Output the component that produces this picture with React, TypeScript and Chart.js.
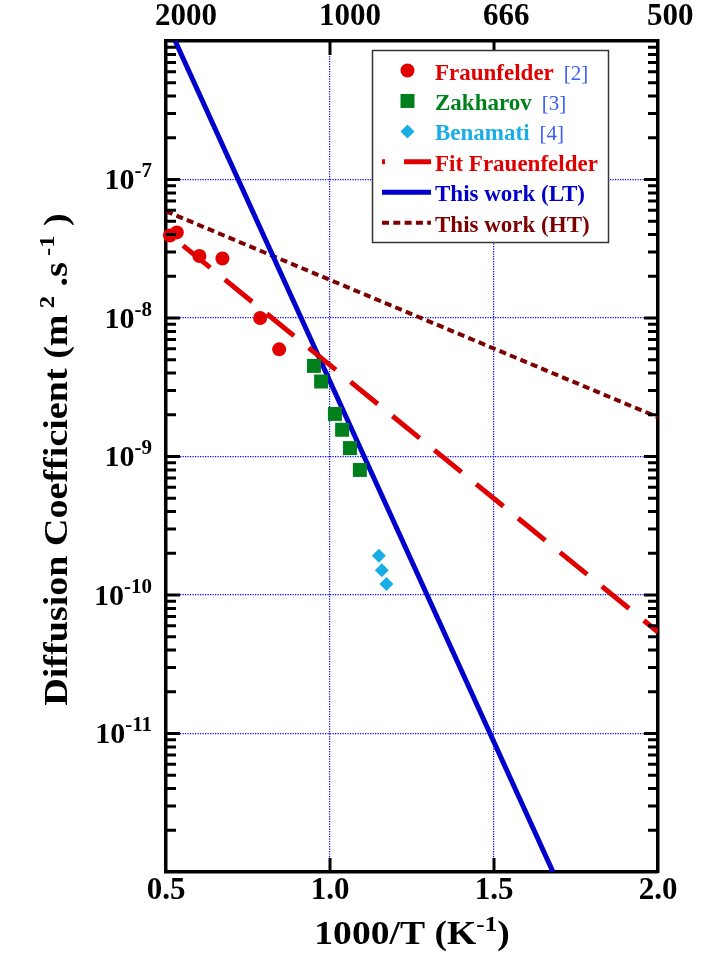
import React, { useEffect, useRef } from 'react';
import { Chart, registerables } from 'chart.js';

Chart.register(...registerables);

// ---------------- data ----------------
const fraunfelderX = [0.512, 0.533, 0.602, 0.672, 0.787, 0.845];
const fraunfelderY = [3.94e-8, 4.15e-8, 2.8e-8, 2.69e-8, 1.0e-8, 5.94e-9];
const zakharovX = [0.951, 0.973, 1.015, 1.037, 1.061, 1.091];
const zakharovY = [4.51e-9, 3.48e-9, 2.03e-9, 1.56e-9, 1.15e-9, 8.0e-10];
const benamatiX = [1.149, 1.158, 1.172];
const benamatiY = [1.92e-10, 1.51e-10, 1.2e-10];
const fitFrauenfelderX = [0.5, 2.0];
const fitFrauenfelderY = [4.2e-8, 5.4e-11];
const thisWorkLTX = [0.528, 1.68];
const thisWorkLTY = [1e-6, 1e-12];
const thisWorkHTX = [0.5, 2.0];
const thisWorkHTY = [5.9e-8, 1.92e-9];

const seriesLabels = ['Fraunfelder', 'Zakharov', 'Benamati', 'Fit Frauenfelder', 'This work (LT)', 'This work (HT)'];
const seriesRefs = ['[2]', '[3]', '[4]', '', '', ''];
const xTickValues = [0.5, 1.0, 1.5, 2.0];
const xTickLabels = ['0.5', '1.0', '1.5', '2.0'];
const topTickLabels = ['2000', '1000', '666', '500'];
const yTickExponents = [-11, -10, -9, -8, -7];
const yMin = 1e-12;
const yMax = 1e-6;
const xMin = 0.5;
const xMax = 2.0;

// ---------------- styles ----------------
const FONT = '"Liberation Serif", "Times New Roman", serif';
const COLORS = {
  fra: '#e00000',
  zak: '#00801c',
  ben: '#19ade6',
  fit: '#e00000',
  lt: '#0000cc',
  ht: '#7d0000',
  ref: '#3a5cff',
  grid: '#0000ff',
};

type Seg = { t: string; sup?: boolean };

function drawRich(
  ctx: CanvasRenderingContext2D,
  segs: Seg[],
  x: number,
  y: number,
  size: number,
  supSize: number,
  rise: number,
  align: 'left' | 'center' | 'right',
  color: string,
  sx = 1,
  weight = 'bold'
) {
  const fMain = `${weight} ${size}px ${FONT}`;
  const fSup = `${weight} ${supSize}px ${FONT}`;
  const widths = segs.map((s) => {
    ctx.font = s.sup ? fSup : fMain;
    return ctx.measureText(s.t).width;
  });
  const total = widths.reduce((a, b) => a + b, 0);
  ctx.save();
  ctx.translate(x, y);
  ctx.scale(sx, 1);
  let cx = align === 'center' ? -total / 2 : align === 'right' ? -total : 0;
  ctx.textAlign = 'left';
  ctx.textBaseline = 'alphabetic';
  ctx.fillStyle = color;
  segs.forEach((s, i) => {
    ctx.font = s.sup ? fSup : fMain;
    ctx.fillText(s.t, cx, s.sup ? -rise : 0);
    cx += widths[i];
  });
  ctx.restore();
}

const pts = (xs: number[], ys: number[]) => xs.map((x, i) => ({ x, y: ys[i] }));
const isDecade = (v: number) => Math.abs(Math.log10(v) - Math.round(Math.log10(v))) < 1e-6;

const frameTicks = {
  id: 'frameTicks',
  afterDatasetsDraw(chart: any) {
    const { ctx, chartArea: a, scales } = chart;
    const ys = scales.y;
    const xs = scales.x;
    ctx.save();
    ctx.strokeStyle = '#000';
    ctx.lineWidth = 3;
    ctx.lineCap = 'butt';
    ctx.beginPath();
    for (let e = -12; e < -6; e++) {
      for (let k = 1; k <= 9; k++) {
        const v = k * Math.pow(10, e);
        if (k === 1 && e === -12) continue;
        const py = ys.getPixelForValue(v);
        const len = k === 1 ? 14 : 10;
        ctx.moveTo(a.left, py);
        ctx.lineTo(a.left + len, py);
        ctx.moveTo(a.right, py);
        ctx.lineTo(a.right - len, py);
      }
    }
    xTickValues.forEach((v) => {
      if (v <= xMin || v >= xMax) return;
      const px = xs.getPixelForValue(v);
      ctx.moveTo(px, a.bottom);
      ctx.lineTo(px, a.bottom - 14);
      ctx.moveTo(px, a.top);
      ctx.lineTo(px, a.top + 14);
    });
    ctx.stroke();
    ctx.restore();
  },
};

const annotations = {
  id: 'annotations',
  afterDraw(chart: any) {
    const { ctx, chartArea: a, scales } = chart;
    // y tick labels 10^n
    yTickExponents.forEach((e) => {
      const py = scales.y.getPixelForValue(Math.pow(10, e));
      drawRich(ctx, [{ t: '10' }, { t: String(e), sup: true }], a.left - 14, py + 9.5, 30, 21, 12, 'right', '#000');
    });
    // x title
    drawRich(
      ctx,
      [{ t: '1000/T (K' }, { t: '-1', sup: true }, { t: ')' }],
      (a.left + a.right) / 2,
      944,
      33,
      22,
      13,
      'center',
      '#000',
      1.14
    );
    // y title
    ctx.save();
    ctx.translate(67, (a.top + a.bottom) / 2 + 3);
    ctx.rotate(-Math.PI / 2);
    drawRich(
      ctx,
      [{ t: 'Diffusion Coefficient (m' }, { t: ' 2', sup: true }, { t: ' .s' }, { t: ' -1', sup: true }, { t: ' )' }],
      0,
      0,
      34,
      22,
      13,
      'center',
      '#000',
      1.12
    );
    ctx.restore();

    // legend
    const box = { left: 372.5, top: 50.5, width: 236, height: 192 };
    ctx.save();
    ctx.fillStyle = '#fff';
    ctx.fillRect(box.left, box.top, box.width, box.height);
    ctx.strokeStyle = '#333';
    ctx.lineWidth = 1.5;
    ctx.strokeRect(box.left, box.top, box.width, box.height);
    chart.data.datasets.forEach((ds: any, i: number) => {
      const base = 79.5 + 30.45 * i;
      const cy = base - 9;
      const color = ds.showLine ? ds.borderColor : ds.backgroundColor;
      ctx.save();
      if (ds.showLine) {
        ctx.strokeStyle = ds.borderColor;
        ctx.lineWidth = ds.borderWidth;
        ctx.lineCap = 'butt';
        ctx.setLineDash(ds.borderDash || []);
        ctx.lineDashOffset = ds.borderDashOffset || 0;
        ctx.beginPath();
        ctx.moveTo(382, cy);
        ctx.lineTo(431, cy);
        ctx.stroke();
      } else {
        ctx.fillStyle = color;
        ctx.beginPath();
        const mx = 407.5;
        if (ds.pointStyle === 'circle') {
          ctx.arc(mx, cy, 7, 0, Math.PI * 2);
        } else if (ds.pointStyle === 'rect') {
          ctx.rect(mx - 7, cy - 7, 14, 14);
        } else {
          ctx.moveTo(mx - 7, cy);
          ctx.lineTo(mx, cy - 7);
          ctx.lineTo(mx + 7, cy);
          ctx.lineTo(mx, cy + 7);
          ctx.closePath();
        }
        ctx.fill();
      }
      ctx.restore();
      ctx.font = `bold 23px ${FONT}`;
      ctx.fillStyle = color;
      ctx.textAlign = 'left';
      ctx.textBaseline = 'alphabetic';
      ctx.fillText(ds.label, 435, base);
      const w = ctx.measureText(ds.label).width;
      if (seriesRefs[i]) {
        ctx.font = `normal 21px ${FONT}`;
        ctx.fillStyle = COLORS.ref;
        ctx.fillText(seriesRefs[i], 435 + w + 10, base);
      }
    });
    ctx.restore();
  },
};

export default function App() {
  const ref = useRef<HTMLCanvasElement>(null);
  useEffect(() => {
    const canvas = ref.current;
    if (!canvas) return;
    const tickFont = { family: FONT, size: 31, weight: 'bold' as const };
    const chart = new Chart(canvas, {
      type: 'scatter',
      data: {
        datasets: [
          {
            label: seriesLabels[0],
            data: pts(fraunfelderX, fraunfelderY),
            pointStyle: 'circle',
            pointRadius: 7,
            backgroundColor: COLORS.fra,
            borderWidth: 0,
            clip: false,
          } as any,
          {
            label: seriesLabels[1],
            data: pts(zakharovX, zakharovY),
            pointStyle: 'rect',
            pointRadius: 9.9,
            backgroundColor: COLORS.zak,
            borderWidth: 0,
            clip: false,
          },
          {
            label: seriesLabels[2],
            data: pts(benamatiX, benamatiY),
            pointStyle: 'rectRot',
            pointRadius: 7,
            backgroundColor: COLORS.ben,
            borderWidth: 0,
            clip: false,
          },
          {
            label: seriesLabels[3],
            data: pts(fitFrauenfelderX, fitFrauenfelderY),
            showLine: true,
            pointRadius: 0,
            borderColor: COLORS.fit,
            backgroundColor: COLORS.fit,
            borderWidth: 5,
            borderDash: [35, 19],
            borderDashOffset: 32,
            borderCapStyle: 'butt',
            fill: false,
          },
          {
            label: seriesLabels[4],
            data: pts(thisWorkLTX, thisWorkLTY),
            showLine: true,
            pointRadius: 0,
            borderColor: COLORS.lt,
            backgroundColor: COLORS.lt,
            borderWidth: 5,
            borderCapStyle: 'butt',
            fill: false,
          },
          {
            label: seriesLabels[5],
            data: pts(thisWorkHTX, thisWorkHTY),
            showLine: true,
            pointRadius: 0,
            borderColor: COLORS.ht,
            backgroundColor: COLORS.ht,
            borderWidth: 4,
            borderDash: [7, 4.3],
            borderCapStyle: 'butt',
            fill: false,
          },
        ] as any,
      },
      options: {
        responsive: false,
        maintainAspectRatio: false,
        devicePixelRatio: 1,
        animation: false,
        events: [],
        layout: { padding: 0, autoPadding: false },
        plugins: { legend: { display: false }, tooltip: { enabled: false }, title: { display: false } },
        scales: {
          x: {
            type: 'linear',
            position: 'bottom',
            min: xMin,
            max: xMax,
            afterBuildTicks: (s: any) => {
              s.ticks = xTickValues.map((v) => ({ value: v }));
            },
            ticks: {
              autoSkip: false,
              maxRotation: 0,
              minRotation: 0,
              padding: 0,
              color: '#000',
              font: tickFont,
              callback: (v: any) => xTickLabels[xTickValues.indexOf(Number(v))] ?? '',
            },
            grid: {
              drawTicks: false,
              lineWidth: 1.2,
              color: (c: any) =>
                c.tick && c.tick.value > xMin + 1e-9 && c.tick.value < xMax - 1e-9 ? COLORS.grid : 'rgba(0,0,0,0)',
            },
            border: { display: true, color: '#000', width: 3.5, dash: [1.2, 1.3] },
            afterFit: (s: any) => {
              s.height = 90;
            },
          },
          x2: {
            type: 'linear',
            position: 'top',
            min: xMin,
            max: xMax,
            afterBuildTicks: (s: any) => {
              s.ticks = xTickValues.map((v) => ({ value: v }));
            },
            ticks: {
              autoSkip: false,
              maxRotation: 0,
              minRotation: 0,
              padding: 5,
              align: 'start',
              labelOffset: -11,
              color: '#000',
              font: tickFont,
              callback: (v: any) => topTickLabels[xTickValues.indexOf(Number(v))] ?? '',
            },
            grid: { display: false, drawTicks: false },
            border: { display: true, color: '#000', width: 3.5 },
            afterFit: (s: any) => {
              s.height = 41;
            },
          },
          y: {
            type: 'logarithmic',
            position: 'left',
            min: yMin,
            max: yMax,
            ticks: { display: false },
            grid: {
              drawTicks: false,
              lineWidth: 1.2,
              color: (c: any) => (c.tick && isDecade(c.tick.value) ? COLORS.grid : 'rgba(0,0,0,0)'),
            },
            border: { display: true, color: '#000', width: 3.5, dash: [1.2, 1.3] },
            afterFit: (s: any) => {
              s.width = 166;
            },
          },
          y2: {
            type: 'logarithmic',
            position: 'right',
            min: yMin,
            max: yMax,
            ticks: { display: false },
            grid: { display: false, drawTicks: false },
            border: { display: true, color: '#000', width: 3.5 },
            afterFit: (s: any) => {
              s.width = 59;
            },
          },
        },
      } as any,
      plugins: [frameTicks, annotations],
    });
    return () => chart.destroy();
  }, []);
  return (
    <div style={{ position: 'fixed', left: 0, top: 0, width: 717, height: 962, background: '#fff' }}>
      <canvas ref={ref} width={717} height={962} style={{ display: 'block', width: 717, height: 962 }} />
    </div>
  );
}
